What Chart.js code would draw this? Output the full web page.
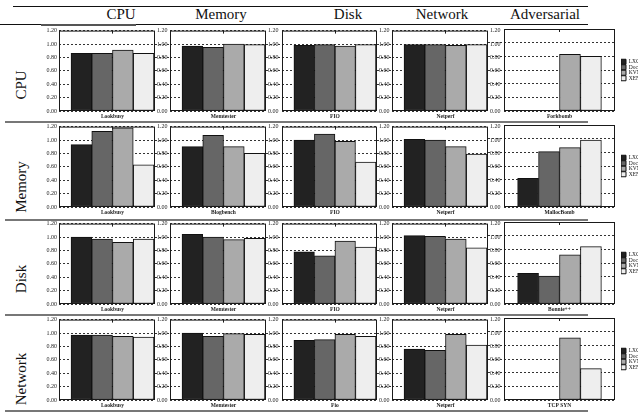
<!DOCTYPE html>
<html>
<head>
<meta charset="utf-8">
<script src="https://cdn.jsdelivr.net/npm/chart.js@4.4.0/dist/chart.umd.min.js"></script>
<style>
  html, body { margin: 0; padding: 0; background: #fff; overflow: hidden; }
  body { width: 638px; height: 413px; position: relative; font-family: "Liberation Serif", serif; color: #111; }
  canvas { position: absolute; }
  .rule { position: absolute; }
  .col-title { position: absolute; top: 6px; font-size: 15px; line-height: 16px; transform: translateX(-50%); white-space: nowrap; }
  .row-title { position: absolute; font-size: 15px; line-height: 16px; white-space: nowrap; transform: translate(-50%, -50%) rotate(-90deg); }
</style>
</head>
<body>
<script>
const seriesNames = ['LXC', 'Docker', 'KVM', 'XEN'];
const columnTitles = ['CPU', 'Memory', 'Disk', 'Network', 'Adversarial'];
const rowTitles = ['CPU', 'Memory', 'Disk', 'Network'];

const cpuBenchmarks = ['Lookbusy', 'Memtester', 'FIO', 'Netperf', 'Forkbomb'];
const memoryBenchmarks = ['Lookbusy', 'Blogbench', 'FIO', 'Netperf', 'MallocBomb'];
const diskBenchmarks = ['Lookbusy', 'Memtester', 'FIO', 'Netperf', 'Bonnie++'];
const networkBenchmarks = ['Lookbusy', 'Memtester', 'Fio', 'Netperf', 'TCP SYN'];

// normalized performance, one value per column
const cpuLXC = [0.86, 0.97, 0.98, 0.99, null];
const cpuDocker = [0.86, 0.95, 0.99, 0.99, null];
const cpuKVM = [0.91, 1.00, 0.97, 0.98, 0.83];
const cpuXEN = [0.86, 0.99, 0.99, 0.99, 0.80];

const memoryLXC = [0.93, 0.90, 1.00, 1.01, 0.42];
const memoryDocker = [1.13, 1.07, 1.09, 1.00, 0.81];
const memoryKVM = [1.18, 0.90, 0.98, 0.90, 0.87];
const memoryXEN = [0.63, 0.80, 0.67, 0.79, 0.98];

const diskLXC = [1.00, 1.04, 0.78, 1.02, 0.45];
const diskDocker = [0.97, 1.00, 0.72, 1.01, 0.41];
const diskKVM = [0.92, 0.96, 0.94, 0.97, 0.72];
const diskXEN = [0.97, 0.98, 0.85, 0.84, 0.84];

const networkLXC = [0.97, 1.00, 0.89, 0.76, null];
const networkDocker = [0.97, 0.95, 0.90, 0.74, null];
const networkKVM = [0.95, 0.99, 0.98, 0.98, 0.91];
const networkXEN = [0.94, 0.98, 0.95, 0.82, 0.46];

const yTickValues = [0, 0.2, 0.4, 0.6, 0.8, 1.0, 1.2];
const yTickLabels = ['0.00', '0.20', '0.40', '0.60', '0.80', '1.00', '1.20'];

const rows = [
    { benchmarks: cpuBenchmarks, series: [cpuLXC, cpuDocker, cpuKVM, cpuXEN] },
    { benchmarks: memoryBenchmarks, series: [memoryLXC, memoryDocker, memoryKVM, memoryXEN] },
    { benchmarks: diskBenchmarks, series: [diskLXC, diskDocker, diskKVM, diskXEN] },
    { benchmarks: networkBenchmarks, series: [networkLXC, networkDocker, networkKVM, networkXEN] }
];

// layout of the grid (frame of each plot)
const colLeft = [59, 170, 282, 392, 504];
const colWidth = [96, 96, 95, 96, 111];
const rowTop = [29, 125, 222, 318];
const plotHeight = 82;
const padL = 16, padT = 4, axisB = 10;
const barColors = ['#222222', '#666666', '#aaaaaa', '#eeeeee'];
const FONT = 'Liberation Serif';

Chart.defaults.font.family = FONT;
Chart.defaults.color = '#111';

function addRule(x, y, w, h, color) {
    const d = document.createElement('div');
    d.className = 'rule';
    d.style.left = x + 'px';
    d.style.top = y + 'px';
    d.style.width = w + 'px';
    d.style.height = h + 'px';
    d.style.background = color;
    document.body.appendChild(d);
}

// header
addRule(13, 6, 575, 1, '#111');
addRule(0, 24, 588, 1, '#111');
addRule(41, 24, 95, 2, '#555');
const titleCenters = [121, 221, 348, 442, 545];
columnTitles.forEach((t, i) => {
    const d = document.createElement('div');
    d.className = 'col-title';
    d.textContent = t;
    d.style.left = titleCenters[i] + 'px';
    document.body.appendChild(d);
});

const rowLabelY = [85, 187, 279, 379];
const rowRuleY = [121, 219, 314, 410];
rowTitles.forEach((t, i) => {
    const d = document.createElement('div');
    d.className = 'row-title';
    d.textContent = t;
    d.style.left = '21px';
    d.style.top = rowLabelY[i] + 'px';
    document.body.appendChild(d);
    addRule(5, rowRuleY[i], 583, 2, '#777');
});

// frame + small tick on top of each plot
const framePlugin = {
    id: 'frame',
    afterDatasetsDraw(chart) {
        const { ctx, chartArea: a, scales } = chart;
        ctx.save();
        ctx.strokeStyle = '#1a1a1a';
        ctx.lineWidth = 1;
        ctx.strokeRect(a.left + 0.5, a.top + 0.5, a.right - a.left - 1, a.bottom - a.top - 1);
        const cx = Math.round(scales.x.getPixelForValue(1.5)) + 0.5;
        ctx.beginPath();
        ctx.moveTo(cx, a.top);
        ctx.lineTo(cx, a.top + 3);
        ctx.stroke();
        ctx.restore();
    }
};

function makePanel(r, c) {
    const row = rows[r];
    const last = c === 4;
    const w = colWidth[c];
    const padR = last ? 6 : 14;
    const legendW = last ? 17 : 0;
    const gap = c > 0 ? colLeft[c] - (colLeft[c - 1] + colWidth[c - 1]) : 0;

    const canvas = document.createElement('canvas');
    const cw = padL + w + padR + legendW;
    const ch = padT + plotHeight + axisB;
    canvas.width = cw;
    canvas.height = ch;
    canvas.style.width = cw + 'px';
    canvas.style.height = ch + 'px';
    canvas.style.left = (colLeft[c] - padL) + 'px';
    canvas.style.top = (rowTop[r] - padT) + 'px';
    document.body.appendChild(canvas);

    const hideEnds = ctx => (ctx.tick && (ctx.tick.value < 0.01 || ctx.tick.value > 1.19)) ? 'rgba(0,0,0,0)' : '#333';

    new Chart(canvas.getContext('2d'), {
        type: 'bar',
        data: {
            datasets: seriesNames.map((name, i) => ({
                label: name,
                data: [{ x: i, y: row.series[i][c] }],
                backgroundColor: barColors[i],
                borderColor: '#111',
                borderWidth: 1,
                borderSkipped: false,
                grouped: false,
                categoryPercentage: 1,
                barPercentage: 1
            }))
        },
        options: {
            responsive: false,
            animation: false,
            events: [],
            layout: { padding: { top: padT, left: 0, right: 0, bottom: 0 } },
            plugins: {
                tooltip: { enabled: false },
                legend: {
                    display: last,
                    position: 'right',
                    fullSize: false,
                    maxWidth: legendW,
                    labels: {
                        boxWidth: 5,
                        boxHeight: 5,
                        padding: 0,
                        font: { family: FONT, size: 5.5 },
                        color: '#111'
                    }
                }
            },
            scales: {
                x: {
                    type: 'linear',
                    offset: false,
                    min: last ? -1.15 : -1.08,
                    max: last ? 4.15 : 3.55,
                    afterBuildTicks: s => { s.ticks = [{ value: 1.5 }]; },
                    afterFit: s => { s.height = axisB; },
                    ticks: {
                        callback: () => row.benchmarks[c],
                        maxRotation: 0,
                        autoSkip: false,
                        padding: 2,
                        font: { family: FONT, size: 5.5, weight: 'bold' },
                        color: '#222'
                    },
                    grid: { display: false, drawTicks: false, offset: false },
                    border: { display: false }
                },
                y: {
                    position: 'left',
                    min: 0,
                    max: 1.2,
                    afterBuildTicks: s => { s.ticks = yTickValues.map(v => ({ value: v })); },
                    afterFit: s => { s.width = padL; },
                    ticks: {
                        display: c === 0,
                        callback: (v, i) => yTickLabels[i],
                        padding: 2,
                        font: { family: FONT, size: 6 },
                        color: '#222'
                    },
                    grid: {
                        color: '#333',
                        lineWidth: 1,
                        drawTicks: c > 0,
                        tickLength: gap,
                        tickColor: hideEnds,
                        tickBorderDash: [2, 2]
                    },
                    border: { display: false, dash: [2, 2] }
                },
                y2: {
                    position: 'right',
                    min: 0,
                    max: 1.2,
                    afterBuildTicks: s => { s.ticks = yTickValues.map(v => ({ value: v })); },
                    afterFit: s => { s.width = padR; },
                    ticks: {
                        display: !last,
                        callback: (v, i) => yTickLabels[i],
                        padding: 2,
                        font: { family: FONT, size: 6 },
                        color: '#222'
                    },
                    grid: { display: false, drawTicks: false },
                    border: { display: false }
                }
            }
        },
        plugins: [framePlugin]
    });
}

for (let r = 0; r < rows.length; r++) {
    for (let c = 0; c < 5; c++) {
        makePanel(r, c);
    }
}
</script>
</body>
</html>
